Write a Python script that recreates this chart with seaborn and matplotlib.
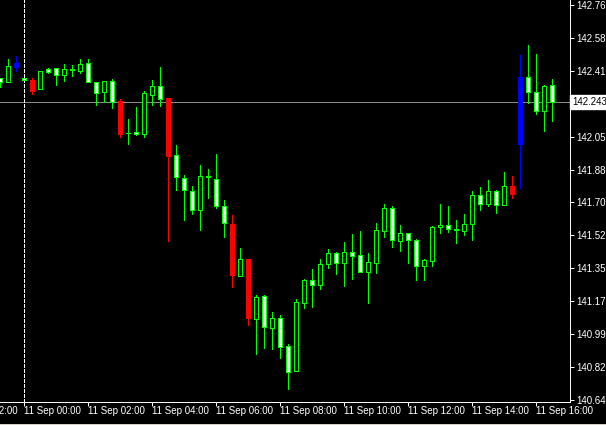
import numpy as np
import matplotlib
matplotlib.use("Agg")
import matplotlib.pyplot as plt
import seaborn as sns
from matplotlib.patches import Rectangle

# MT4 style chart, black background
sns.set_style("dark", {"axes.facecolor": "black", "figure.facecolor": "black"})
plt.rcParams['font.family'] = ['Liberation Sans', 'DejaVu Sans']

# M15 candles, first three belong to 10 Sep (21:15 - 21:45), then 11 Sep 00:00 ...
opens = [142.372, 142.350, 142.434, 142.373, 142.364, 142.313, 142.422, 142.425, 142.391, 142.419,
         142.413, 142.454, 142.350, 142.297, 142.356, 142.248, 142.078, 142.084, 142.074, 142.281,
         142.329, 142.266, 141.959, 141.835, 141.765, 141.663, 141.846, 141.830, 141.685, 141.590,
         141.312, 141.402, 141.082, 141.202, 141.033, 141.084, 140.933, 140.803, 141.163, 141.288,
         141.264, 141.374, 141.433, 141.382, 141.438, 141.422, 141.331, 141.379, 141.554, 141.674,
         141.497, 141.540, 141.502, 141.363, 141.390, 141.572, 141.583, 141.563, 141.550, 141.588,
         141.744, 141.696, 141.765, 141.690, 141.794, 142.021, 142.377, 142.297, 142.195, 142.334]
highs = [142.372, 142.475, 142.490, 142.373, 142.373, 142.409, 142.429, 142.425, 142.449, 142.443,
         142.475, 142.475, 142.350, 142.357, 142.366, 142.261, 142.152, 142.218, 142.302, 142.363,
         142.432, 142.266, 142.014, 141.851, 141.794, 141.905, 141.885, 141.966, 141.719, 141.638,
         141.461, 141.402, 141.209, 141.209, 141.118, 141.101, 140.946, 141.186, 141.295, 141.348,
         141.402, 141.456, 141.440, 141.493, 141.536, 141.552, 141.434, 141.595, 141.697, 141.685,
         141.583, 141.540, 141.508, 141.400, 141.577, 141.697, 141.686, 141.610, 141.642, 141.767,
         141.788, 141.826, 141.771, 141.867, 141.847, 142.497, 142.551, 142.502, 142.336, 142.366]
lows = [142.327, 142.350, 142.413, 142.361, 142.289, 142.313, 142.400, 142.337, 142.357, 142.386,
        142.402, 142.354, 142.229, 142.245, 142.214, 142.058, 142.021, 142.067, 142.058, 142.230,
        142.225, 141.499, 141.774, 141.612, 141.645, 141.559, 141.731, 141.677, 141.522, 141.253,
        141.312, 141.048, 140.892, 140.924, 140.919, 140.872, 140.704, 140.803, 141.136, 141.146,
        141.241, 141.355, 141.323, 141.259, 141.296, 141.331, 141.167, 141.328, 141.522, 141.468,
        141.446, 141.382, 141.291, 141.291, 141.366, 141.539, 141.548, 141.490, 141.532, 141.505,
        141.667, 141.688, 141.646, 141.690, 141.727, 141.785, 142.237, 142.182, 142.091, 142.144]
closes = [142.350, 142.436, 142.452, 142.361, 142.305, 142.409, 142.407, 142.390, 142.420, 142.414,
          142.449, 142.354, 142.291, 142.357, 142.243, 142.074, 142.077, 142.074, 142.291, 142.329,
          142.262, 141.956, 141.840, 141.771, 141.663, 141.846, 141.842, 141.685, 141.594, 141.316,
          141.402, 141.087, 141.196, 141.039, 141.084, 140.931, 140.797, 141.170, 141.288, 141.260,
          141.374, 141.433, 141.379, 141.438, 141.417, 141.331, 141.384, 141.556, 141.674, 141.502,
          141.540, 141.502, 141.363, 141.395, 141.572, 141.583, 141.561, 141.560, 141.588, 141.744,
          141.696, 141.765, 141.690, 141.792, 141.751, 142.379, 142.297, 142.198, 142.329, 142.243]

# candles painted by the signal indicator (red = down, blue = up)
signal_bars = [2, 4, 15, 21, 29, 31, 64, 65]

# time axis: bar index of each label
time_pos = [-5, 3, 11, 19, 27, 35, 43, 51, 59, 67]
time_labels = ['10 Sep 22:00', '11 Sep 00:00', '11 Sep 02:00', '11 Sep 04:00', '11 Sep 06:00',
               '11 Sep 08:00', '11 Sep 10:00', '11 Sep 12:00', '11 Sep 14:00', '11 Sep 16:00']

# the 142.235 level sits under the current price box, so its label is hidden
price_ticks = [140.645, 140.822, 140.998, 141.175, 141.352, 141.528, 141.705,
               141.882, 142.058, 142.235, 142.412, 142.588, 142.765]
price_labels = ['140.645', '140.820', '140.995', '141.175', '141.350', '141.525', '141.705',
                '141.880', '142.055', '', '142.410', '142.585', '142.765']

o = np.array(opens)
h = np.array(highs)
l = np.array(lows)
c = np.array(closes)
x = np.arange(len(o))
bull = c > o

fill = np.where(bull, 'black', 'white').astype(object)
edge = np.array(['#00ff00'] * len(o), dtype=object)
wick = np.array(['#00ff00'] * len(o), dtype=object)
for i in signal_bars:
    col = '#0000ff' if bull[i] else '#ff0000'
    fill[i] = col
    edge[i] = col
    wick[i] = col

LW = 0.7  # ~1 pixel at 100 dpi

fig = plt.figure(figsize=(6.06, 4.25), dpi=100, facecolor='black')
ax = fig.add_axes([0, 23 / 425, 569.5 / 606, 402 / 425])
ax.set_facecolor('black')

# current price line and day separator
ax.axhline(c[-1], color='#8a8a8a', lw=LW, zorder=1, antialiased=False)
ax.axvline(3, color='white', lw=LW, ls=(0, (3.1, 2.0)), zorder=1, antialiased=False)

ax.vlines(x, l, h, colors=list(wick), lw=LW, zorder=2, antialiased=False)
body = np.maximum(np.abs(c - o), 0.0004)
ax.bar(x, body, bottom=np.minimum(o, c), width=0.5, color=list(fill),
       edgecolor=list(edge), linewidth=LW, zorder=3, antialiased=False)

ax.set_xlim(-0.04, 71.15)
ax.set_ylim(140.634, 142.792)

for s in ['left', 'top']:
    ax.spines[s].set_visible(False)
for s in ['right', 'bottom']:
    ax.spines[s].set_visible(True)
    ax.spines[s].set_color('white')
    ax.spines[s].set_linewidth(LW)

ax.yaxis.tick_right()
ax.set_yticks(price_ticks, price_labels)
ax.tick_params(axis='y', colors='white', labelcolor='white', length=3, width=LW,
               labelsize=7, pad=2, right=True, left=False)
ax.set_xticks(time_pos[1:], [''] * (len(time_pos) - 1))
ax.tick_params(axis='x', colors='white', length=3, width=LW, bottom=True)
ax.grid(False)

for pos, lbl in zip(time_pos, time_labels):
    ax.annotate(lbl, xy=(pos, 0), xycoords=('data', 'axes fraction'),
                xytext=(0, -3), textcoords='offset points', ha='left', va='top',
                color='white', fontsize=7, annotation_clip=False)

# current price box on the scale
ax.annotate(f'{c[-1]:.3f}', xy=(1, c[-1]), xycoords=('axes fraction', 'data'),
            xytext=(2, 0), textcoords='offset points', ha='left', va='center',
            color='black', fontsize=7, annotation_clip=False, zorder=5,
            bbox=dict(boxstyle='square,pad=0.2', fc='white', ec='white'))

fig.add_artist(Rectangle((0, 0), 1, 1.5 / 425, transform=fig.transFigure,
                         fc='#d4d0c8', ec='none'))

fig.savefig('out.png', dpi=100, facecolor='black')
